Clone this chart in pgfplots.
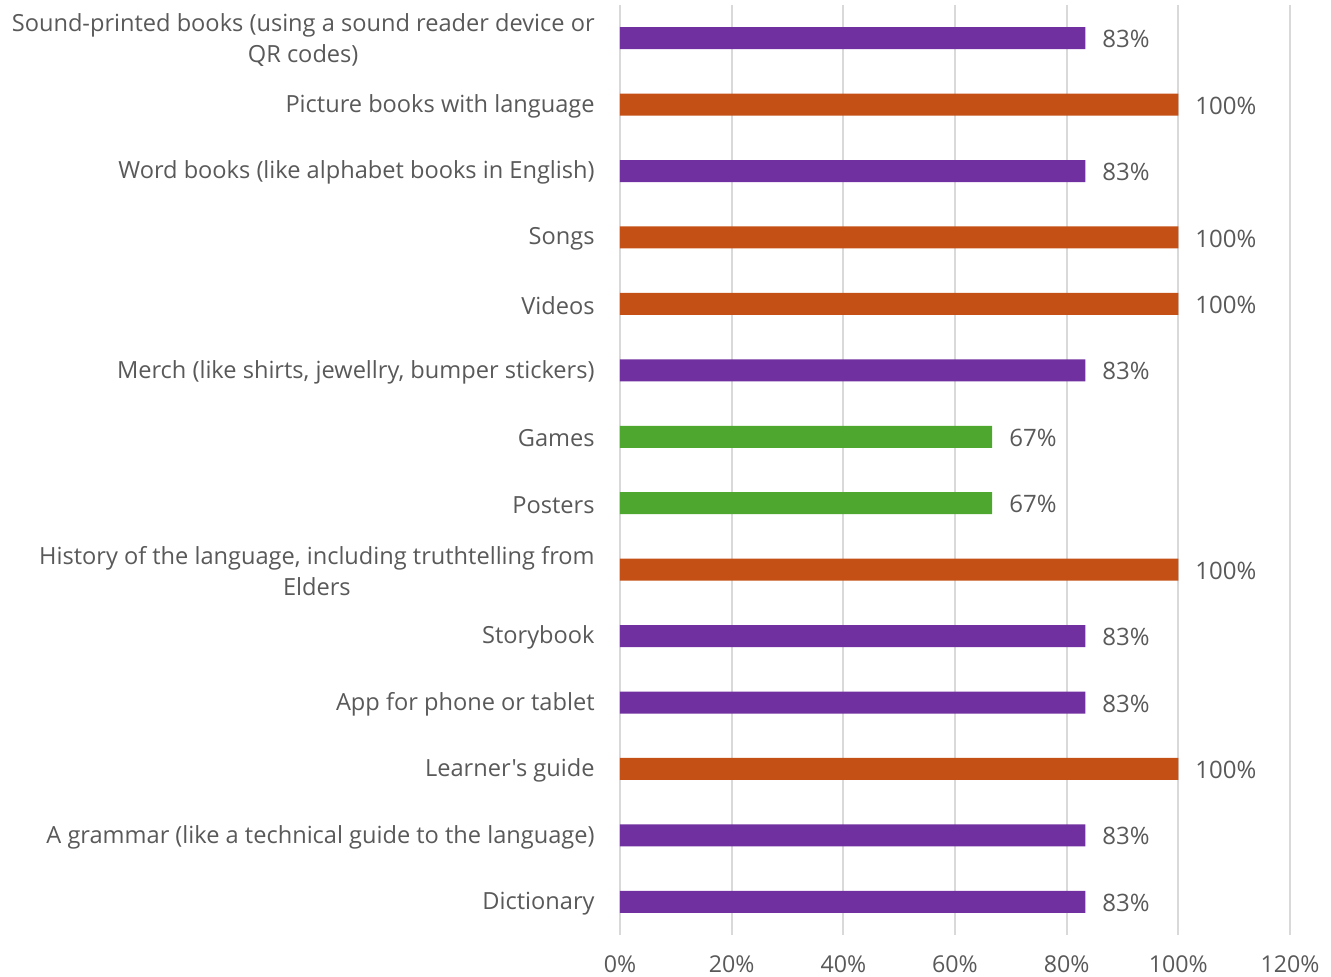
\documentclass[border=0pt]{standalone}
\usepackage{pgfplots}
\pgfplotsset{compat=1.18}
\usepackage{fontspec}
\setmainfont{Open Sans}[Ligatures=TeXReset]
\definecolor{cpur}{HTML}{7030A0}
\definecolor{corg}{HTML}{C55016}
\definecolor{cgrn}{HTML}{4EA72E}
\definecolor{ctxt}{HTML}{595959}
\definecolor{cgrid}{HTML}{D9D9D9}
\begin{document}
\begin{tikzpicture}
\begin{axis}[
  name=ax,
  scale only axis,
  width=335pt, height=465pt,
  xbar, bar width=11pt, bar shift=0pt,
  xmin=0, xmax=120,
  ymin=-0.5, ymax=13.5,
  y dir=reverse,
  xtick={0,20,...,120},
  xticklabel={\pgfmathprintnumber{\tick}\%},
  ytick={0,...,13},
  yticklabels={{Sound-printed books (using a sound reader device or\\QR codes)},
    {Picture books with language},
    {Word books (like alphabet books in English)},
    {Songs},{Videos},
    {Merch (like shirts, jewellry, bumper stickers)},
    {Games},{Posters},
    {History of the language, including truthtelling from\\Elders},
    {Storybook},{App for phone or tablet},{Learner's guide},
    {A grammar (like a technical guide to the language)},
    {Dictionary}},
  yticklabel style={align=center, inner sep=0pt, xshift=-12.5pt, yshift=-0.8pt, font=\fontsize{11.8}{15.5}\selectfont, text=ctxt},
  xticklabel style={inner sep=0pt, yshift=-10pt, font=\fontsize{11.6}{13}\selectfont, text=ctxt},
  /pgf/number format/assume math mode=true,
  axis line style={draw=none},
  major tick length=0pt,
  xmajorgrids, grid style={cgrid, line width=1pt},
  point meta=x,
  nodes near coords={\pgfmathprintnumber[fixed,precision=0]{\pgfplotspointmeta}\%},
  nodes near coords style={anchor=west, xshift=5pt, yshift=-0.5pt, text=ctxt, font=\fontsize{12}{13}\selectfont},
]
\addplot[draw=none, fill=cpur] coordinates {(83.33,0) (83.33,2) (83.33,5) (83.33,9) (83.33,10) (83.33,12) (83.33,13)};
\addplot[draw=none, fill=corg] coordinates {(100,1) (100,3) (100,4) (100,8) (100,11)};
\addplot[draw=none, fill=cgrn] coordinates {(66.67,6) (66.67,7)};
\end{axis}
\pgfresetboundingbox
\path ([xshift=-310pt,yshift=-21pt]ax.south west) rectangle ([xshift=20.5pt,yshift=2.5pt]ax.north east);
\end{tikzpicture}
\end{document}
